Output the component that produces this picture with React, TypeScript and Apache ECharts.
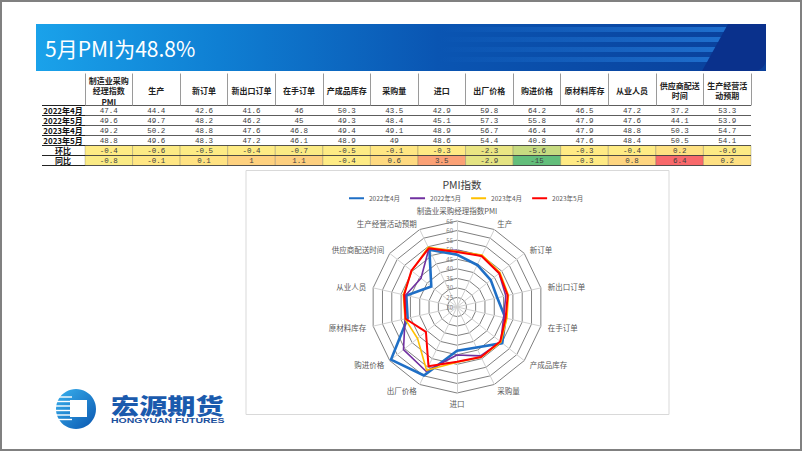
import React, { useEffect, useRef } from 'react';
import * as echarts from 'echarts';

const indicators = ['制造业采购经理指数PMI', '生产', '新订单', '新出口订单', '在手订单', '产成品库存', '采购量', '进口', '出厂价格', '购进价格', '原材料库存', '从业人员', '供应商配送时间', '生产经营活动预期'];
const headerLabels = ['制造业采购\n经理指数\nPMI', '生产', '新订单', '新出口订单', '在手订单', '产成品库存', '采购量', '进口', '出厂价格', '购进价格', '原材料库存', '从业人员', '供应商配送\n时间', '生产经营活\n动预期'];
const rowLabels = ['2022年4月', '2022年5月', '2023年4月', '2023年5月', '环比', '同比'];

const apr2022 = [47.4, 44.4, 42.6, 41.6, 46, 50.3, 43.5, 42.9, 59.8, 64.2, 46.5, 47.2, 37.2, 53.3];
const may2022 = [49.6, 49.7, 48.2, 46.2, 45, 49.3, 48.4, 45.1, 57.3, 55.8, 47.9, 47.6, 44.1, 53.9];
const apr2023 = [49.2, 50.2, 48.8, 47.6, 46.8, 49.4, 49.1, 48.9, 56.7, 46.4, 47.9, 48.8, 50.3, 54.7];
const may2023 = [48.8, 49.6, 48.3, 47.2, 46.1, 48.9, 49, 48.6, 54.4, 40.8, 47.6, 48.4, 50.5, 54.1];
const momChange = [-0.4, -0.6, -0.5, -0.4, -0.7, -0.5, -0.1, -0.3, -2.3, -5.6, -0.3, -0.4, 0.2, -0.6];
const yoyChange = [-0.8, -0.1, 0.1, 1, 1.1, -0.4, 0.6, 3.5, -2.9, -15, -0.3, 0.8, 6.4, 0.2];

const seriesNames = ['2022年4月', '2022年5月', '2023年4月', '2023年5月'];
const seriesColors = ['#1f6fc6', '#7030a0', '#ffc000', '#ff0000'];
const seriesWidths = [2.6, 1.6, 1.6, 2];

const radarMin = 20;
const radarMax = 65;
const radarStep = 5;

const tableRows = [apr2022, may2022, apr2023, may2023, momChange, yoyChange];
const radarRows = [apr2022, may2022, apr2023, may2023];

function scaleColor(v: number, min: number, mid: number, max: number) {
  const g = [99, 190, 123];
  const y = [255, 235, 132];
  const r = [248, 105, 107];
  let b: number[];
  let t: number;
  if (v >= mid) {
    b = r;
    t = max === mid ? 0 : (v - mid) / (max - mid);
  } else {
    b = g;
    t = mid === min ? 0 : (mid - v) / (mid - min);
  }
  return 'rgb(' + y.map((x, i) => Math.round(x + (b[i] - x) * t)).join(',') + ')';
}

export default function App() {
  const ref = useRef<HTMLDivElement>(null);
  useEffect(() => {
    if (!ref.current) return;
    const chart = echarts.init(ref.current, undefined, { renderer: 'svg' });

    const changeVals = [...momChange, ...yoyChange].slice().sort((a, b) => a - b);
    const n = changeVals.length;
    const median = n % 2 ? changeVals[(n - 1) / 2] : (changeVals[n / 2 - 1] + changeVals[n / 2]) / 2;
    const cMin = changeVals[0];
    const cMax = changeVals[n - 1];

    const cellData: number[][] = [];
    tableRows.forEach((row, r) => {
      row.forEach((v, c) => {
        cellData.push([c, r, v]);
      });
    });

    const order = [0, 13, 12, 11, 10, 9, 8, 7, 6, 5, 4, 3, 2, 1];

    const font = '"Noto Sans CJK SC", "Noto Sans", sans-serif';

    const renderCell = (params: any, api: any) => {
      const c = api.value(0);
      const r = api.value(1);
      const v = api.value(2);
      const pt = api.coord([c, r]);
      const sz = api.size([1, 1]);
      const colored = r >= 4;
      const x = pt[0] - sz[0] / 2;
      const y = pt[1] - sz[1] / 2;
      const children: any[] = [];
      if (colored) {
        children.push({
          type: 'rect',
          shape: { x, y, width: sz[0], height: sz[1] },
          style: { fill: scaleColor(v, cMin, median, cMax), stroke: 'rgba(90,90,90,0.55)', lineWidth: 0.5 },
        });
      }
      children.push({
        type: 'text',
        style: {
          text: String(v),
          x: pt[0],
          y: pt[1] + 0.5,
          align: 'center',
          verticalAlign: 'middle',
          fill: '#404040',
          font: '7.5px "Liberation Mono", monospace',
        },
      });
      return { type: 'group', children };
    };

    const option: any = {
      animation: false,
      backgroundColor: '#ffffff',
      title: [
        {
          text: 'PMI指数',
          left: 457,
          top: 174,
          textAlign: 'center',
          textStyle: { fontSize: 10.5, fontWeight: 'normal', color: '#404040', fontFamily: font },
        },
      ],
      legend: {
        data: seriesNames,
        left: 344,
        top: 190,
        icon: 'rect',
        itemWidth: 15,
        itemHeight: 2,
        itemGap: 10,
        textStyle: { fontSize: 6.5, color: '#595959', fontFamily: font },
      },
      grid: { left: 85, top: 105.5, width: 666, height: 60, containLabel: false },
      xAxis: {
        type: 'category',
        position: 'top',
        data: headerLabels,
        axisLine: { show: false },
        axisTick: { show: true, length: 32, interval: 0, lineStyle: { color: '#9a9a9a', width: 1 } },
        axisLabel: {
          interval: 0,
          margin: 15,
          verticalAlign: 'middle',
          lineHeight: 10.5,
          fontSize: 8,
          fontWeight: 'bold',
          color: '#222',
          fontFamily: font,
        },
        splitLine: { show: false },
      },
      yAxis: {
        type: 'category',
        data: rowLabels,
        inverse: true,
        axisLine: { show: false },
        axisTick: { show: true, length: 43, interval: 0, lineStyle: { color: '#222', width: 1.2 } },
        axisLabel: {
          interval: 0,
          align: 'center',
          margin: 22,
          fontSize: 8,
          lineHeight: 9,
          fontWeight: 'bold',
          color: '#111',
          fontFamily: font,
        },
        splitLine: { show: true, interval: 0, lineStyle: { color: '#333', width: 0.8 } },
      },
      radar: {
        center: [457, 307],
        radius: 86,
        startAngle: 90,
        shape: 'polygon',
        splitNumber: (radarMax - radarMin) / radarStep,
        indicator: order.map((i) => ({ name: indicators[i], min: radarMin, max: radarMax })),
        nameGap: 7,
        axisName: { color: '#595959', fontSize: 7.5, fontFamily: font },
        splitLine: { lineStyle: { color: '#808080', width: 1 } },
        splitArea: { show: false },
        axisLine: { lineStyle: { color: '#d0d0d0', width: 1 } },
        axisTick: { show: false },
        axisLabel: { show: false },
      },
      polar: { center: [457, 307], radius: 86 },
      angleAxis: { type: 'value', min: 0, max: 360, startAngle: 90, show: false },
      radiusAxis: {
        type: 'value',
        min: radarMin,
        max: radarMax,
        interval: radarStep,
        axisLine: { show: false },
        axisTick: { show: false },
        splitLine: { show: false },
        axisLabel: { fontSize: 6, color: '#808080', margin: 4, fontFamily: font },
      },
      series: [
        {
          type: 'custom',
          coordinateSystem: 'cartesian2d',
          xAxisIndex: 0,
          yAxisIndex: 0,
          z: -1,
          data: cellData,
          renderItem: renderCell,
          silent: true,
        },
        {
          type: 'radar',
          symbol: 'none',
          data: radarRows.map((row, k) => ({
            name: seriesNames[k],
            value: order.map((i) => row[i]),
            lineStyle: { color: seriesColors[k], width: seriesWidths[k] },
            itemStyle: { color: seriesColors[k] },
          })),
        },
      ],
      graphic: [
        {
          type: 'rect',
          z: -10,
          shape: { x: 1, y: 1, width: 800, height: 449 },
          style: { fill: '#ffffff', stroke: '#808080', lineWidth: 2 },
        },
        {
          type: 'rect',
          z: -9,
          shape: { x: 246, y: 170.5, width: 423, height: 244 },
          style: { fill: '#ffffff', stroke: '#d9d9d9', lineWidth: 1 },
        },
        {
          type: 'rect',
          shape: { x: 36, y: 24, width: 730, height: 47 },
          style: {
            fill: {
              type: 'linear', x: 0, y: 0, x2: 1, y2: 0,
              colorStops: [
                { offset: 0, color: '#1aa2ea' },
                { offset: 0.25, color: '#0f7fd3' },
                { offset: 0.55, color: '#0a55b2' },
                { offset: 1, color: '#0a3f9a' },
              ],
            },
          },
        },
        ...[27, 37, 47, 57].map((yy) => ({
          type: 'rect',
          shape: { x: 440, y: yy, width: 300, height: 5 },
          style: {
            fill: {
              type: 'linear', x: 0, y: 0, x2: 1, y2: 0,
              colorStops: [
                { offset: 0, color: 'rgba(40,130,225,0)' },
                { offset: 1, color: 'rgba(40,130,225,0.75)' },
              ],
            },
          },
        })),
        {
          type: 'rect',
          shape: { x: 728, y: 24, width: 38, height: 47, r: [0, 0, 12, 0] },
          style: { fill: '#0a318c' },
        },
        {
          type: 'polygon',
          shape: { points: [[728, 24], [729, 24], [729, 71], [702, 71]] },
          style: { fill: '#0a318c' },
        },
        {
          type: 'text',
          x: 45,
          y: 48,
          style: {
            text: '5月PMI为48.8%',
            fill: '#ffffff',
            font: '21px "Noto Sans CJK SC", sans-serif',
            verticalAlign: 'middle',
          },
        },
        {
          type: 'circle',
          shape: { cx: 76, cy: 409, r: 20 },
          style: {
            fill: {
              type: 'linear', x: 0, y: 0, x2: 1, y2: 1,
              colorStops: [
                { offset: 0, color: '#3ab2ee' },
                { offset: 1, color: '#0a56b0' },
              ],
            },
          },
        },
        ...[397, 401.5, 406, 410.5, 415, 419.5].map((yy) => ({
          type: 'line',
          shape: { x1: 56, y1: yy, x2: 72, y2: yy },
          style: { stroke: '#ffffff', lineWidth: 1.4 },
        })),
        {
          type: 'rect',
          shape: { x: 70, y: 400, width: 17, height: 17 },
          style: { fill: '#ffffff' },
        },
        {
          type: 'text',
          x: 111,
          y: 404,
          scaleX: 1.28,
          style: {
            text: '宏源期货',
            fill: '#1a5aad',
            font: '900 22px "Noto Sans CJK SC", sans-serif',
            verticalAlign: 'middle',
          },
        },
        {
          type: 'text',
          x: 111,
          y: 421,
          scaleX: 1.4,
          style: {
            text: 'HONGYUAN FUTURES',
            fill: '#1a4f9c',
            font: 'bold 7.5px "Liberation Sans", sans-serif',
            verticalAlign: 'middle',
          },
        },
      ],
    };
    chart.setOption(option);
    return () => chart.dispose();
  }, []);
  return <div ref={ref} style={{ position: 'absolute', left: 0, top: 0, width: 802, height: 451 }} />;
}
